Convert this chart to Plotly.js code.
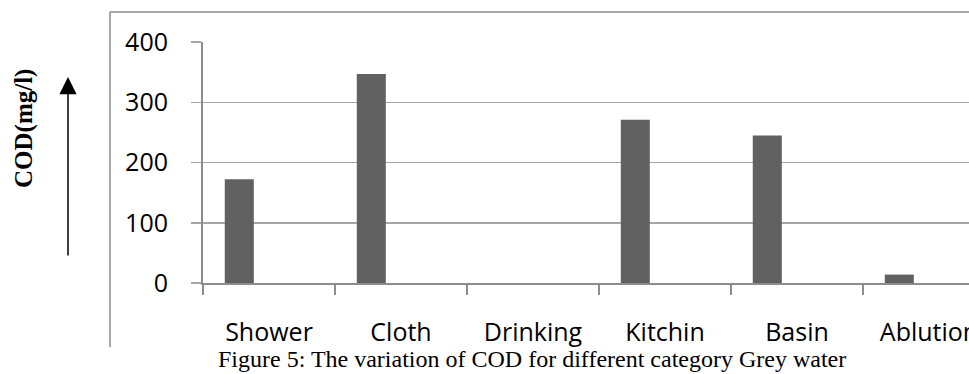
<!DOCTYPE html>
<html>
<head>
<meta charset="utf-8">
<script src="https://cdn.plot.ly/plotly-3.0.1.min.js"></script>
<style>
  html, body { margin: 0; padding: 0; background: #fff; }
  #chart { width: 969px; height: 374px; }
</style>
</head>
<body>
<div id="chart"></div>
<script>
// COD measured for each grey water category (mg/l)
const categories = ['Shower', 'Cloth', 'Drinking', 'Kitchin', 'Basin', 'Ablution'];
const codValues = [172, 347, 0, 271, 245, 14];
const yTicks = [0, 100, 200, 300, 400];

const W = 969, H = 374;
const M = { l: 203, r: 0, t: 42, b: 91 };
const plotW = W - M.l - M.r, plotH = H - M.t - M.b;
// pixel -> paper helpers for the frame, arrow and captions
const px = x => (x - M.l) / plotW;
const py = y => (H - M.b - y) / plotH;

const grey = '#8c8c8c';

const trace = {
  type: 'bar',
  x: categories,
  y: codValues,
  width: 0.22,
  offset: -0.335,
  marker: { color: '#616161', line: { width: 0 } },
  hoverinfo: 'x+y'
};

const layout = {
  width: W, height: H,
  margin: M,
  paper_bgcolor: '#fff', plot_bgcolor: '#fff',
  showlegend: false,
  font: { family: 'Open Sans, sans-serif', color: '#000' },
  xaxis: {
    type: 'category',
    range: [-0.5, -0.5 + plotW / 132],
    tickson: 'boundaries',
    ticks: 'outside', ticklen: 10, tickwidth: 1.5, tickcolor: grey,
    showline: true, linecolor: grey, linewidth: 2,
    showgrid: false,
    tickfont: { family: 'Open Sans, sans-serif', size: 25, color: '#000' },
    ticklabelstandoff: 26,
    fixedrange: true
  },
  yaxis: {
    range: [0, 400],
    tickvals: yTicks,
    ticktext: yTicks.map(String),
    ticks: 'outside', ticklen: 10, tickwidth: 1.5, tickcolor: '#a6a6a6',
    showline: true, linecolor: grey, linewidth: 2,
    showgrid: true, gridcolor: '#a6a6a6', gridwidth: 1.5,
    zeroline: false,
    tickfont: { family: 'Open Sans, sans-serif', size: 25, color: '#000' },
    ticklabelstandoff: 18,
    fixedrange: true
  },
  shapes: [
    // outer chart frame (top and left edges)
    { type: 'line', xref: 'paper', yref: 'paper', x0: px(110), x1: px(975), y0: py(12), y1: py(12),
      line: { color: grey, width: 1.5 } },
    { type: 'line', xref: 'paper', yref: 'paper', x0: px(110), x1: px(110), y0: py(12), y1: py(347),
      line: { color: grey, width: 1.5 } }
  ],
  annotations: [
    {
      xref: 'paper', yref: 'paper', x: px(24), y: py(129),
      text: '<b>COD(mg/l)</b>', textangle: -90, showarrow: false,
      font: { family: 'Liberation Serif, Times New Roman, serif', size: 25, color: '#000' },
      xanchor: 'center', yanchor: 'middle'
    },
    {
      xref: 'paper', yref: 'paper', x: px(68), y: py(77),
      text: '', showarrow: true, axref: 'pixel', ayref: 'pixel', ax: 0, ay: 180,
      arrowhead: 2, arrowsize: 2.3, arrowwidth: 1.5, arrowcolor: '#000'
    },
    {
      xref: 'paper', yref: 'paper', x: px(532), y: py(359),
      text: 'Figure 5: The variation of COD for different category Grey water',
      showarrow: false, xanchor: 'center', yanchor: 'middle',
      font: { family: 'Liberation Serif, Times New Roman, serif', size: 24, color: '#000' }
    }
  ]
};

Plotly.newPlot('chart', [trace], layout, { displayModeBar: false, staticPlot: true });
</script>
</body>
</html>
